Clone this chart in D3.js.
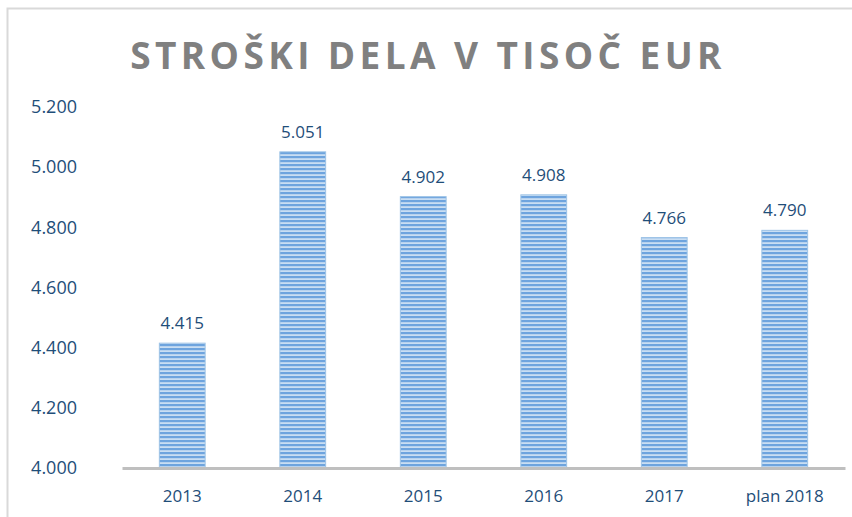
<!DOCTYPE html>
<html>
<head>
<meta charset="utf-8">
<script src="https://cdn.jsdelivr.net/npm/d3@7"></script>
<style>
  body { margin: 0; background: #fff; }
  svg { display: block; }
  text { font-family: "Open Sans", "Liberation Sans", sans-serif; }
</style>
</head>
<body>
<svg id="chart" width="852" height="517"></svg>
<script>
var categories = ["2013", "2014", "2015", "2016", "2017", "plan 2018"];
var values = [4415, 5051, 4902, 4908, 4766, 4790];
var yTicks = [4000, 4200, 4400, 4600, 4800, 5000, 5200];
var title = "STROŠKI DELA V TISOČ EUR";

var svg = d3.select("#chart"),
    width = +svg.attr("width"),
    height = +svg.attr("height");

var margin = { top: 107, right: 7, bottom: 49, left: 122 };

var fmt = function (v) { return d3.format(",.0f")(v).replace(/,/g, "."); };

// stripe pattern for bars
var defs = svg.append("defs");
var pat = defs.append("pattern")
    .attr("id", "stripes")
    .attr("patternUnits", "userSpaceOnUse")
    .attr("width", 8)
    .attr("height", 4);
pat.append("rect").attr("width", 8).attr("height", 4).attr("fill", "#c9def3");
pat.append("rect").attr("y", 0).attr("width", 8).attr("height", 2.2).attr("fill", "#6ea4de");

// frame
svg.append("path")
    .attr("d", "M7.5," + height + "V8.5H" + width)
    .attr("fill", "none")
    .attr("stroke", "#d9d9d9")
    .attr("stroke-width", 2);

var x = d3.scaleBand()
    .domain(categories)
    .range([margin.left, width - margin.right])
    .paddingInner(0.62)
    .paddingOuter(0.31);

var y = d3.scaleLinear()
    .domain([4000, 5200])
    .range([height - margin.bottom, margin.top]);

svg.append("text")
    .attr("x", 428)
    .attr("y", 69)
    .attr("text-anchor", "middle")
    .attr("font-size", 37)
    .attr("font-weight", "bold")
    .attr("letter-spacing", 4.4)
    .attr("fill", "#808080")
    .text(title);

// y tick labels
var yAxis = svg.append("g")
    .attr("transform", "translate(77,0)")
    .call(d3.axisLeft(y).tickValues(yTicks).tickFormat(fmt).tickSize(0).tickPadding(0));
yAxis.select(".domain").remove();
yAxis.selectAll("text")
    .attr("font-size", 18)
    .attr("fill", "#1f4e79")
    .style("font-family", "'Open Sans', sans-serif");

// bars
svg.append("g").selectAll("rect")
    .data(values)
    .enter()
    .append("rect")
    .attr("x", function (d, i) { return x(categories[i]); })
    .attr("y", function (d) { return y(d); })
    .attr("width", x.bandwidth())
    .attr("height", function (d) { return y(4000) - y(d); })
    .attr("fill", "url(#stripes)")
    .attr("stroke", "#9dc3e6")
    .attr("stroke-width", 1);

// value labels
svg.append("g").selectAll("text")
    .data(values)
    .enter()
    .append("text")
    .attr("x", function (d, i) { return x(categories[i]) + x.bandwidth() / 2; })
    .attr("y", function (d) { return y(d) - 14; })
    .attr("text-anchor", "middle")
    .attr("font-size", 17)
    .attr("fill", "#1f4e79")
    .text(fmt);

// x axis
var xAxis = svg.append("g")
    .attr("transform", "translate(0," + y(4000) + ")")
    .call(d3.axisBottom(x).tickSize(0).tickPadding(22));
xAxis.select(".domain")
    .attr("stroke", "#bfbfbf")
    .attr("stroke-width", 3);
xAxis.selectAll("text")
    .attr("font-size", 17)
    .attr("fill", "#1f4e79")
    .style("font-family", "'Open Sans', sans-serif");
</script>
</body>
</html>
